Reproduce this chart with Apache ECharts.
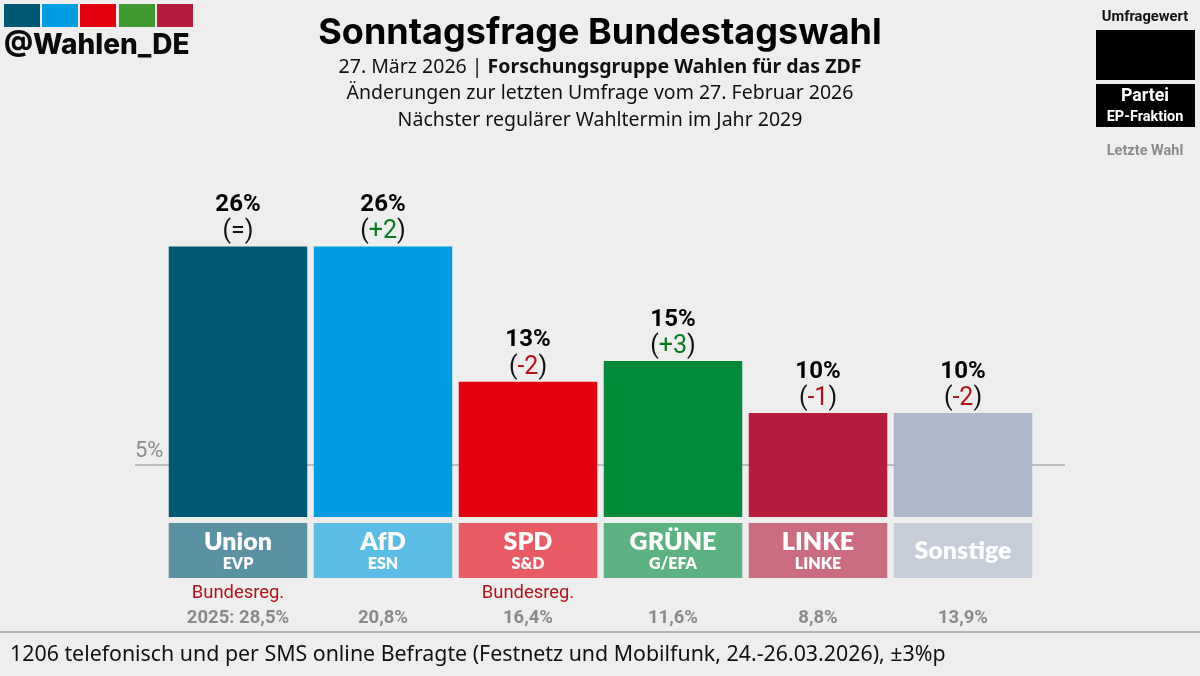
<!DOCTYPE html>
<html lang="de">
<head>
<meta charset="UTF-8">
<title>Sonntagsfrage Bundestagswahl</title>
<style>
    html, body { margin: 0; padding: 0; background: #eeeeee; }
    #chart { width: 1200px; height: 676px; }
</style>
</head>
<body>
<div id="chart"></div>
<script src="https://cdn.jsdelivr.net/npm/echarts@6/dist/echarts.min.js"></script>
<script>
    // Werte aus der Grafik
    var parties = ['Union', 'AfD', 'SPD', 'GRÜNE', 'LINKE', 'Sonstige'];
    var fractions = ['EVP', 'ESN', 'S&D', 'G/EFA', 'LINKE', ''];
    var values = [26, 26, 13, 15, 10, 10];
    var changes = ['=', '+2', '-2', '+3', '-1', '-2'];
    var lastElection = ['2025: 28,5%', '20,8%', '16,4%', '11,6%', '8,8%', '13,9%'];
    var government = ['Bundesreg.', '', 'Bundesreg.', '', '', ''];
    var colors = ['#005974', '#009ee0', '#e3000f', '#008a3a', '#b51c3e', '#adb8cb'];
    var threshold = 5;
    var boxValue = [1, 1, 1, 1, 1, 1];

    var chart = echarts.init(document.getElementById('chart'));

    function changeKey(c) {
        if (c === '=') return 'p';
        return c.charAt(0) === '+' ? 'g' : 'r';
    }

    var logoColors = ['#005974', '#009ee0', '#e3000f', '#3f9a2f', '#b51c3e'];
    var logoX = [4, 42, 80, 119, 157];
    var graphics = logoColors.map(function (c, i) {
        return { type: 'rect', shape: { x: logoX[i], y: 4, width: 36, height: 23 }, style: { fill: c } };
    });
    graphics.push(
        { type: 'rect', shape: { x: 1096, y: 30, width: 99, height: 50 }, style: { fill: '#000' } },
        { type: 'rect', shape: { x: 1096, y: 84, width: 99, height: 43 }, style: { fill: '#000' } },
        { type: 'rect', shape: { x: 0, y: 631, width: 1200, height: 2 }, style: { fill: '#b4b4b4' } }
    );

    function text(str, x, y, font, color, align) {
        return {
            text: str, left: x, top: y, padding: 0, textAlign: align || 'center', textVerticalAlign: 'middle',
            textStyle: { fontFamily: font[0], fontWeight: font[1], fontSize: font[2], color: color }
        };
    }

    var option = {
        backgroundColor: '#eeeeee',
        animation: false,
        title: [
            text('Sonntagsfrage Bundestagswahl', 600, 33, ['Inter', 700, 36], '#000'),
            {
                text: '27. März 2026 | {b|Forschungsgruppe Wahlen für das ZDF}',
                left: 600, top: 67, padding: 0, textAlign: 'center', textVerticalAlign: 'middle',
                textStyle: {
                    fontFamily: 'Noto Sans', fontWeight: 'normal', fontSize: 19.5, color: '#111',
                    rich: { b: { fontFamily: 'Noto Sans', fontWeight: 'bold', fontSize: 19.5, color: '#111' } }
                }
            },
            text('Änderungen zur letzten Umfrage vom 27. Februar 2026', 600, 93, ['Noto Sans', 'normal', 19.5], '#111'),
            text('Nächster regulärer Wahltermin im Jahr 2029', 600, 120, ['Noto Sans', 'normal', 19.5], '#111'),
            text('@Wahlen_DE', 4, 46, ['Inter', 800, 28], '#0a0a0a', 'left'),
            text('Umfragewert', 1145, 17, ['Roboto', 'bold', 14.7], '#111'),
            text('Partei', 1145, 97, ['Roboto', 'bold', 17.7], '#fff'),
            text('EP-Fraktion', 1145, 117, ['Roboto', 'bold', 14.5], '#fff'),
            text('Letzte Wahl', 1145, 151, ['Roboto', 'bold', 14.5], '#8c8c8c'),
            text('1206 telefonisch und per SMS online Befragte (Festnetz und Mobilfunk, 24.-26.03.2026), ±3%p', 10, 655, ['Noto Sans', 'normal', 21.35], '#111', 'left')
        ],
        graphic: graphics,
        grid: [
            { left: 165.5, width: 870, top: 205, height: 312 },
            { left: 135, width: 930, top: 205, height: 312 },
            { left: 165.5, width: 870, top: 523, height: 55 }
        ],
        xAxis: [
            { gridIndex: 0, type: 'category', data: parties, show: false },
            { gridIndex: 1, type: 'value', min: 0, max: 1, show: false },
            {
                gridIndex: 2, type: 'category', data: parties,
                axisLine: { show: false }, axisTick: { show: false },
                axisLabel: {
                    interval: 0, margin: 2,
                    formatter: function (v, i) {
                        return '{gov|' + (government[i] || ' ') + '}\n{last|' + lastElection[i] + '}';
                    },
                    rich: {
                        gov: { fontFamily: 'Roboto', fontSize: 18.4, color: '#b5121b', height: 26, lineHeight: 26 },
                        last: { fontFamily: 'Roboto', fontWeight: 'bold', fontSize: 18.5, color: '#8a8a8a', height: 24, lineHeight: 24 }
                    }
                }
            }
        ],
        yAxis: [
            { gridIndex: 0, type: 'value', min: 0, max: 30, show: false },
            {
                gridIndex: 1, type: 'value', min: 0, max: 30,
                axisLine: { show: false }, axisTick: { show: false }, splitLine: { show: false },
                axisLabel: {
                    inside: true, margin: 0, verticalAlign: 'bottom', customValues: [threshold], padding: [0, 0, 3, 0],
                    formatter: '{value}%', fontFamily: 'Roboto', fontSize: 22, color: '#8c8c8c'
                }
            },
            { gridIndex: 2, type: 'value', min: 0, max: 1, show: false }
        ],
        series: [
            {
                type: 'line', xAxisIndex: 1, yAxisIndex: 1, z: 1,
                data: [[0, threshold], [1, threshold]],
                symbol: 'none', silent: true,
                lineStyle: { color: '#bdbdbd', width: 2 }
            },
            {
                type: 'bar', xAxisIndex: 0, yAxisIndex: 0, z: 2, barWidth: 138.5,
                data: values.map(function (v, i) {
                    return { value: v, itemStyle: { color: colors[i] } };
                }),
                label: {
                    show: true, position: 'top', distance: 1,
                    formatter: function (p) {
                        var c = changes[p.dataIndex];
                        return '{v|' + p.value + '%}\n{p|(}{' + changeKey(c) + '|' + c + '}{p|)}';
                    },
                    rich: {
                        v: { fontFamily: 'Roboto', fontWeight: 'bold', fontSize: 24, color: '#000', lineHeight: 27 },
                        p: { fontFamily: 'Roboto', fontSize: 25, color: '#111', lineHeight: 27 },
                        g: { fontFamily: 'Roboto', fontSize: 25, color: '#0a7a1e', lineHeight: 27 },
                        r: { fontFamily: 'Roboto', fontSize: 25, color: '#b5121b', lineHeight: 27 }
                    }
                }
            },
            {
                type: 'bar', xAxisIndex: 2, yAxisIndex: 2, barWidth: 138.5,
                data: boxValue.map(function (v, i) {
                    return { value: v, itemStyle: { color: echarts.color.modifyAlpha(colors[i], 0.62) } };
                }),
                label: {
                    show: true, position: 'inside',
                    formatter: function (p) {
                        var f = fractions[p.dataIndex];
                        return f ? '{name|' + p.name + '}\n{frac|' + f + '}' : '{name|' + p.name + '}';
                    },
                    rich: {
                        name: { fontFamily: 'Lato', fontWeight: 800, fontSize: 25, color: '#fff', lineHeight: 27 },
                        frac: { fontFamily: 'Lato', fontWeight: 800, fontSize: 16, color: '#fff', lineHeight: 18 }
                    }
                }
            }
        ]
    };

    chart.setOption(option);
</script>
</body>
</html>
